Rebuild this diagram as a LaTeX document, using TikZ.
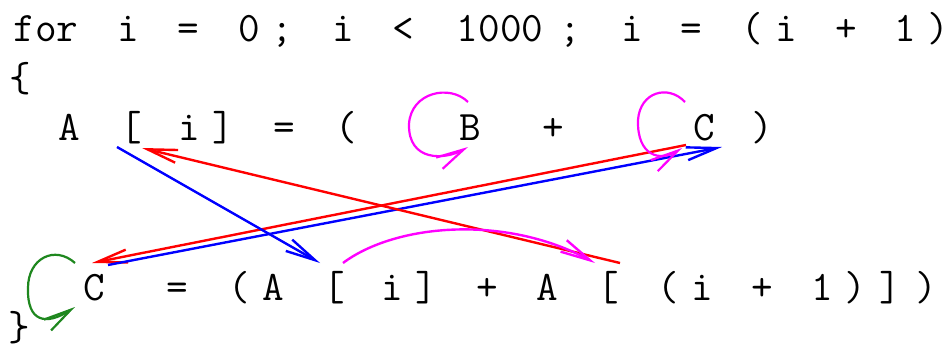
\documentclass[tikz,border=0pt]{standalone}
\usetikzlibrary{arrows.meta}
\newcommand\codefont{\ttfamily\fontsize{42}{42}\selectfont}
\definecolor{loopgreen}{RGB}{30,135,30}
\definecolor{pinkloop}{RGB}{255,0,255}
\definecolor{arrred}{RGB}{255,0,0}
\definecolor{arrblue}{RGB}{0,0,255}
\tikzset{
  tok/.style={font=\codefont, inner sep=0pt, anchor=base, text=black},
  arr/.style={line width=2.4pt, -{Straight Barb[length=30pt,width=13pt]}},
  looparr/.style={line width=2.2pt, -{Straight Barb[length=28pt,width=13pt]}},
}
\begin{document}
\begin{tikzpicture}[x=1pt,y=-1pt]
\fill[white] (0,0) rectangle (947,350);
\useasboundingbox (0,0) rectangle (947,350);
% line 1
\node[tok] (l1for) at (46,42) {for};
\node[tok] (l1i)   at (128,42) {i};
\node[tok] (l1eq)  at (188,42) {=};
\node[tok] (l1z)   at (249,42) {0};
\node[tok] (l1sa)  at (282,42) {;};
\node[tok] (l1ib)  at (343,42) {i};
\node[tok] (l1lt)  at (403,42) {<};
\node[tok] (l1n)   at (500,42) {1000};
\node[tok] (l1sb)  at (570,42) {;};
\node[tok] (l1ic)  at (632,42) {i};
\node[tok] (l1eqb) at (691,42) {=};
\node[tok] (l1po)  at (752,42) {(};
\node[tok] (l1id)  at (786,42) {i};
\node[tok] (l1pl)  at (846,42) {+};
\node[tok] (l1one) at (905,42) {1};
\node[tok] (l1pc)  at (938,42) {)};
% line 2
\node[tok] (lbrace) at (20,92) {\{};
% line 3
\node[tok] (l3A)  at (69,140) {A};
\node[tok] (l3lb) at (131,140) {[};
\node[tok] (l3i)  at (189,140) {i};
\node[tok] (l3rb) at (223,140) {]};
\node[tok] (l3eq) at (284,140) {=};
\node[tok] (l3po) at (346,140) {(};
\node[tok] (l3B)  at (470,140) {B};
\node[tok] (l3pl) at (553,140) {+};
\node[tok] (l3C)  at (704,140) {C};
\node[tok] (l3pc) at (762,140) {)};
% line 4
\node[tok] (l4C)   at (94,300) {C};
\node[tok] (l4eq)  at (177,300) {=};
\node[tok] (l4po)  at (239,300) {(};
\node[tok] (l4A)   at (273,300) {A};
\node[tok] (l4lb)  at (334,300) {[};
\node[tok] (l4i)   at (392,300) {i};
\node[tok] (l4rb)  at (426,300) {]};
\node[tok] (l4pl)  at (487,300) {+};
\node[tok] (l4Ab)  at (547,300) {A};
\node[tok] (l4lbb) at (608,300) {[};
\node[tok] (l4pob) at (668,300) {(};
\node[tok] (l4ib)  at (702,300) {i};
\node[tok] (l4plb) at (762,300) {+};
\node[tok] (l4one) at (822,300) {1};
\node[tok] (l4pc)  at (855,300) {)};
\node[tok] (l4rbb) at (890,300) {]};
\node[tok] (l4pcb) at (926,300) {)};
% line 5
\node[tok] (rbrace) at (19,340) {\}};
% connector end points
\coordinate (b1s) at (117,147);
\coordinate (b1e) at (320,263);
\coordinate (r1s) at (620,263);
\coordinate (r1e) at (142,148);
\coordinate (r2s) at (686,145);
\coordinate (r2e) at (92,263);
\coordinate (b2s) at (108,265);
\coordinate (b2e) at (722,147);
\coordinate (m1s) at (343,263);
\coordinate (m1e) at (595,263);
\coordinate (lBs) at (468,102);
\coordinate (lBm) at (409,124);
\coordinate (lBe) at (468,147);
\coordinate (lCs) at (685,102);
\coordinate (lCm) at (638,120);
\coordinate (lCe) at (682,148);
\coordinate (lGs) at (75,263);
\coordinate (lGm) at (28,288);
\coordinate (lGe) at (75,307);
% connectors
\draw[arr, arrred] (r2s) -- (r2e);
\draw[arr, arrblue] (b2s) -- (b2e);
\draw[arr, arrred] (r1s) -- (r1e);
\draw[arr, arrblue] (b1s) -- (b1e);
\draw[arr, pinkloop] (m1s) .. controls (395,224) and (505,214) .. (m1e);
\draw[looparr, pinkloop] (lBs) .. controls (450,84) and (411,92) .. (lBm)
  .. controls (408,162) and (445,160) .. (lBe);
\draw[looparr, pinkloop] (lCs) .. controls (668,84) and (640,92) .. (lCm)
  .. controls (637,156) and (660,162) .. (lCe);
\draw[looparr, loopgreen] (lGs) .. controls (55,245) and (28,258) .. (lGm)
  .. controls (27,322) and (46,326) .. (lGe);
\end{tikzpicture}
\end{document}
